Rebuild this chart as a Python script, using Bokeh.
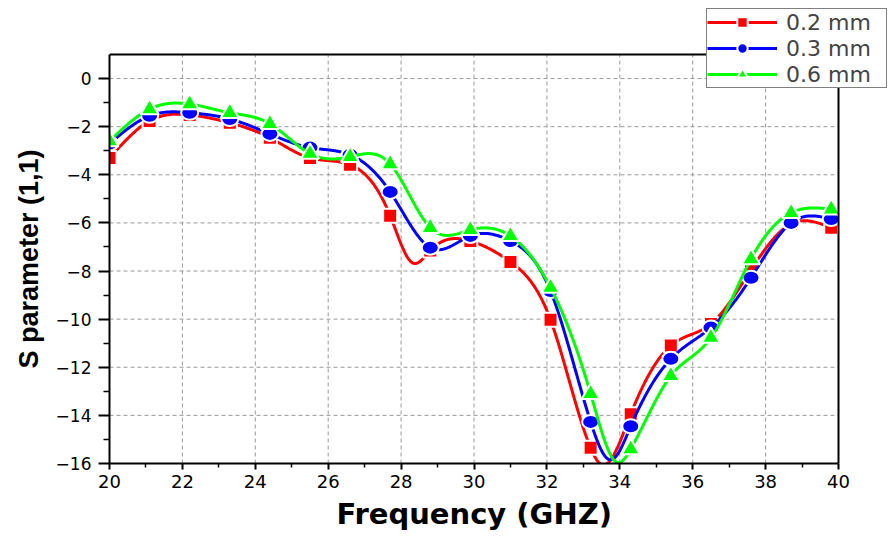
import numpy as np
from bokeh.plotting import figure
from bokeh.models import Range1d, FixedTicker, Legend, LegendItem, Title
from bokeh.embed import file_html
from bokeh.resources import INLINE

# ---- data ----
freq = [20.0, 21.1, 22.2, 23.3, 24.4, 25.5, 26.6, 27.7, 28.8, 29.9,
        31.0, 32.1, 33.2, 34.3, 35.4, 36.5, 37.6, 38.7, 39.8]
s_02 = [-3.30, -1.76, -1.51, -1.84, -2.46, -3.30, -3.58, -5.70, -7.15, -6.75,
        -7.62, -10.03, -15.35, -13.95, -11.10, -10.20, -7.95, -6.04, -6.20]
s_03 = [-2.70, -1.55, -1.42, -1.68, -2.30, -2.87, -3.17, -4.71, -7.03, -6.54,
        -6.75, -8.83, -14.27, -14.45, -11.65, -10.35, -8.28, -6.00, -5.84]
s_06 = [-2.60, -1.27, -1.06, -1.42, -1.88, -3.12, -3.25, -3.55, -6.20, -6.29,
        -6.54, -8.69, -13.10, -15.40, -12.36, -10.77, -7.50, -5.58, -5.43]
# extra curve points (between markers)
extra_x_02 = [28.3, 33.5]
extra_y_02 = [-7.65, -16.05]
extra_x_03 = [33.75]
extra_y_03 = [-15.85]
extra_x_06 = [33.93]
extra_y_06 = [-15.96]

labels = ["0.2 mm", "0.3 mm", "0.6 mm"]
colors = ["#FF0000", "#0000FF", "#00FF00"]
x_ticks = list(range(20, 41, 2))
x_minor = list(range(21, 40, 2))
y_ticks = list(range(-16, 1, 2))
y_minor = list(range(-15, 1, 2))
X_MIN, X_MAX = 20, 40
Y_MIN, Y_MAX = -16, 1


def natural_spline(x, y, n=800):
    order = np.argsort(x)
    x = np.asarray(x, float)[order]
    y = np.asarray(y, float)[order]
    k = len(x)
    h = np.diff(x)
    A = np.zeros((k, k))
    r = np.zeros(k)
    A[0, 0] = 1.0
    A[-1, -1] = 1.0
    for i in range(1, k - 1):
        A[i, i - 1] = h[i - 1]
        A[i, i] = 2 * (h[i - 1] + h[i])
        A[i, i + 1] = h[i]
        r[i] = 6 * ((y[i + 1] - y[i]) / h[i] - (y[i] - y[i - 1]) / h[i - 1])
    M = np.linalg.solve(A, r)
    xs = np.linspace(x[0], x[-1], n)
    idx = np.clip(np.searchsorted(x, xs) - 1, 0, k - 2)
    x0, x1 = x[idx], x[idx + 1]
    hh = x1 - x0
    a = (x1 - xs) / hh
    b = (xs - x0) / hh
    ys = (a * y[idx] + b * y[idx + 1]
          + ((a ** 3 - a) * M[idx] + (b ** 3 - b) * M[idx + 1]) * hh ** 2 / 6)
    return xs, ys


# frame is extended to the right and upward so the legend can overlap the box
PX_X = 729 / (X_MAX - X_MIN)
PX_Y = 409 / (Y_MAX - Y_MIN)
x_end = X_MAX + (887 - 838) / PX_X
y_end = Y_MAX + (54 - 5) / PX_Y

p = figure(width=888, height=538, output_backend="svg", toolbar_location=None,
           x_range=Range1d(X_MIN, x_end), y_range=Range1d(Y_MIN, y_end),
           min_border_left=109, min_border_right=1,
           min_border_top=5, min_border_bottom=75)

p.outline_line_color = None
p.background_fill_color = "white"
p.border_fill_color = "white"
p.xgrid.visible = False
p.ygrid.visible = False

for ax in (p.xaxis[0], p.yaxis[0]):
    ax.axis_line_width = 2
    ax.axis_line_color = "black"
    ax.major_tick_line_width = 2
    ax.minor_tick_line_width = 1.5
    ax.major_tick_in = 0
    ax.minor_tick_in = 0
    ax.major_label_text_font = "DejaVu Sans"
    ax.major_label_text_color = "black"

p.xaxis.major_label_text_font_size = "18px"
p.yaxis.major_label_text_font_size = "17px"
p.xaxis.bounds = (X_MIN, X_MAX)
p.yaxis.bounds = (Y_MIN, Y_MAX)
p.xaxis.ticker = FixedTicker(ticks=x_ticks, minor_ticks=x_minor)
p.yaxis.ticker = FixedTicker(ticks=y_ticks, minor_ticks=y_minor)
p.xaxis.major_tick_out = 6
p.xaxis.minor_tick_out = 4
p.yaxis.major_tick_out = 11
p.yaxis.minor_tick_out = 6
p.xaxis.major_label_standoff = 5
p.yaxis.major_label_standoff = 7

# axis titles as Title annotations so they centre on the box, not the frame
xt = Title(text="Frequency (GHZ)", align="left", offset=227,
           text_font="DejaVu Sans", text_font_style="bold",
           text_font_size="29px", text_color="black", standoff=8)
p.add_layout(xt, "below")
yt = Title(text="S parameter (1,1)", align="left", offset=95,
           text_font="Liberation Sans", text_font_style="bold",
           text_font_size="27px", text_color="black", standoff=18)
p.add_layout(yt, "left")

# dashed grid at the major ticks, inside the box only
gx = [t for t in x_ticks if X_MIN < t < X_MAX]
gy = [t for t in y_ticks if Y_MIN < t <= Y_MAX]
p.segment(x0=gx, y0=[Y_MIN] * len(gx), x1=gx, y1=[Y_MAX] * len(gx),
          line_color="#9a9a9a", line_dash="4 3", line_width=1)
p.segment(x0=[X_MIN] * len(gy), y0=gy, x1=[X_MAX] * len(gy), y1=gy,
          line_color="#9a9a9a", line_dash="4 3", line_width=1)

items = []
series = [(s_02, extra_x_02, extra_y_02),
          (s_03, extra_x_03, extra_y_03),
          (s_06, extra_x_06, extra_y_06)]
for i, (ys, ex, ey) in enumerate(series):
    xs_s, ys_s = natural_spline(freq + ex, ys + ey)
    lr = p.line(xs_s, ys_s, line_color=colors[i], line_width=3)
    if i == 0:
        mr = p.scatter(freq, ys, marker="square", size=14,
                       fill_color=colors[i], line_color="white", line_width=2)
        leg = [lr, mr]
    elif i == 1:
        cr = p.scatter(freq, ys, marker="circle", size=12,
                       fill_color=colors[i], line_color="white", line_width=2)
        p.ellipse(freq, ys, width=17, height=14,
                  width_units="screen", height_units="screen",
                  fill_color=colors[i], line_color="white", line_width=2)
        leg = [lr, cr]
    else:
        mr = p.scatter(freq, ys, marker="triangle", size=18,
                       fill_color=colors[i], line_color="white", line_width=2)
        leg = [lr, mr]
    items.append(LegendItem(label=labels[i], renderers=leg))

# box border: top and right sides
p.segment(x0=[X_MIN, X_MAX], y0=[Y_MAX, Y_MIN], x1=[X_MAX, X_MAX], y1=[Y_MAX, Y_MAX],
          line_color="black", line_width=2)

legend = Legend(items=items, location=(597, 375))
legend.border_line_color = "black"
legend.border_line_width = 1
legend.background_fill_color = "white"
legend.background_fill_alpha = 1
legend.label_text_font = "DejaVu Sans"
legend.label_text_font_size = "22px"
legend.label_width = 100
legend.glyph_width = 70
legend.glyph_height = 26
legend.label_height = 26
legend.label_standoff = 9
legend.spacing = 0
legend.padding = 0
legend.margin = 0
p.add_layout(legend, "center")

open("out.html", "w").write(file_html(p, INLINE))
